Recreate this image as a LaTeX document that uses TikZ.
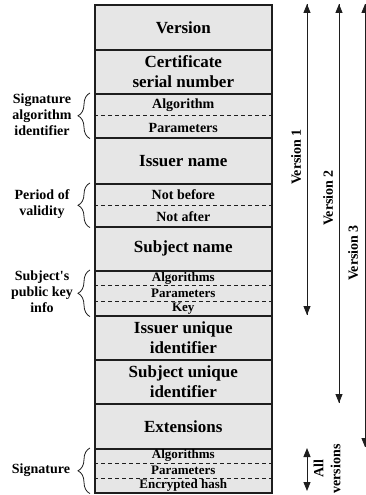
\documentclass[tikz,border=0pt]{standalone}
\usepackage{fontspec}
\setmainfont{Liberation Serif}
\usetikzlibrary{arrows.meta,decorations.pathreplacing,calc}
\definecolor{boxgray}{RGB}{230,230,230}
\definecolor{ink}{RGB}{30,30,30}
\begin{document}
\begin{tikzpicture}[x=1pt,y=-1pt,
  field/.style={draw=ink,line width=1.6pt,fill=boxgray,minimum width=177pt,
    inner sep=0pt,anchor=north west,align=center,
    font=\fontsize{17}{20}\selectfont\bfseries},
  sub/.style={inner sep=0pt,font=\fontsize{14}{15}\selectfont\bfseries},
  tiny/.style={inner sep=0pt,font=\fontsize{13}{13}\selectfont\bfseries},
  sep/.style={draw=ink,line width=0.9pt,dash pattern=on 4pt off 3pt},
  side/.style={align=center,inner sep=0pt,font=\fontsize{14}{16}\selectfont\bfseries},
  brc/.style={draw=ink,line width=0.8pt,decorate,decoration={brace,amplitude=12pt}},
  arr/.style={draw=ink,line width=0.9pt,-{Triangle[length=9pt,width=7pt]}},
  darr/.style={draw=ink,line width=0.9pt,{Triangle[length=9pt,width=7pt]}-{Triangle[length=9pt,width=7pt]}},
  vlab/.style={rotate=90,inner sep=0pt,align=center,font=\fontsize{14}{17}\selectfont\bfseries}]
\useasboundingbox (0,0) rectangle (366,495);

% fields
\node[field,minimum height=45pt] (ver) at (94,4) {Version};
\node[field,minimum height=44pt] (cert) at (94,49) {Certificate\\serial number};
\node[field,minimum height=44pt] (sigalg) at (94,93) {};
\node[field,minimum height=46pt] (iss) at (94,137) {Issuer name};
\node[field,minimum height=43pt] (valid) at (94,183) {};
\node[field,minimum height=44pt] (subj) at (94,226) {Subject name};
\node[field,minimum height=45pt] (pk) at (94,270) {};
\node[field,minimum height=44pt] (issu) at (94,315) {Issuer unique\\identifier};
\node[field,minimum height=44pt] (subu) at (94,359) {Subject unique\\identifier};
\node[field,minimum height=45pt] (ext) at (94,403) {Extensions};
\node[field,minimum height=44pt] (sig) at (94,448) {};

% signature algorithm identifier
\draw[sep] (sigalg.west) -- (sigalg.east);
\node[sub] (sa1) at ($(sigalg.north)!0.27!(sigalg.south)$) {Algorithm};
\node[sub] (sa2) at ($(sigalg.north)!0.76!(sigalg.south)$) {Parameters};

% validity
\draw[sep] (valid.west) -- (valid.east);
\node[sub] (va1) at ($(valid.north)!0.27!(valid.south)$) {Not before};
\node[sub] (va2) at ($(valid.north)!0.76!(valid.south)$) {Not after};

% public key info
\draw[sep] ($(pk.north west)!1/3!(pk.south west)$) -- ($(pk.north east)!1/3!(pk.south east)$);
\draw[sep] ($(pk.north west)!2/3!(pk.south west)$) -- ($(pk.north east)!2/3!(pk.south east)$);
\node[tiny] (pk1) at ($(pk.north)!0.17!(pk.south)$) {Algorithms};
\node[tiny] (pk2) at ($(pk.north)!0.5!(pk.south)$) {Parameters};
\node[tiny] (pk3) at ($(pk.north)!0.83!(pk.south)$) {Key};

% signature
\draw[sep] ($(sig.north west)!1/3!(sig.south west)$) -- ($(sig.north east)!1/3!(sig.south east)$);
\draw[sep] ($(sig.north west)!2/3!(sig.south west)$) -- ($(sig.north east)!2/3!(sig.south east)$);
\node[tiny] (sg1) at ($(sig.north)!0.17!(sig.south)$) {Algorithms};
\node[tiny] (sg2) at ($(sig.north)!0.5!(sig.south)$) {Parameters};
\node[tiny] (sg3) at ($(sig.north)!0.83!(sig.south)$) {Encrypted hash};

% left braces and labels
\draw[brc] ([xshift=-4pt]sigalg.south west) -- ([xshift=-4pt]sigalg.north west);
\node[side] (lsa) at (42,115) {Signature\\algorithm\\identifier};
\draw[brc] ([xshift=-4pt]valid.south west) -- ([xshift=-4pt]valid.north west);
\node[side] (lva) at (42,204) {Period of\\validity};
\draw[brc] ([xshift=-4pt]pk.south west) -- ([xshift=-4pt]pk.north west);
\node[side] (lpk) at (42,292) {Subject\textquotesingle s\\public key\\info};
\draw[brc] ([xshift=-4pt]sig.south west) -- ([xshift=-4pt]sig.north west);
\node[side] (lsg) at (41,470) {Signature};

% version arrows
\coordinate (v1t) at (307,4);
\coordinate (v1b) at (307,315);
\coordinate (v2t) at (339,4);
\coordinate (v2b) at (339,403);
\coordinate (v3t) at (365,4);
\coordinate (v3b) at (365,447);
\coordinate (avt) at (307,448);
\coordinate (avb) at (307,491);
\draw[arr] (v1b) -- (v1t);
\draw[arr] (v1t) -- (v1b);
\draw[arr] (v2b) -- (v2t);
\draw[arr] (v2t) -- (v2b);
\draw[arr] (v3b) -- (v3t);
\draw[arr] (v3t) -- (v3b);
\draw[darr] (avt) -- (avb);

\node[vlab] (lv1) at (296,157) {Version 1};
\node[vlab] (lv2) at (328,198) {Version 2};
\node[vlab] (lv3) at (353,253) {Version 3};
\node[vlab] (lav) at (327,469) {All\\versions};
\end{tikzpicture}
\end{document}
